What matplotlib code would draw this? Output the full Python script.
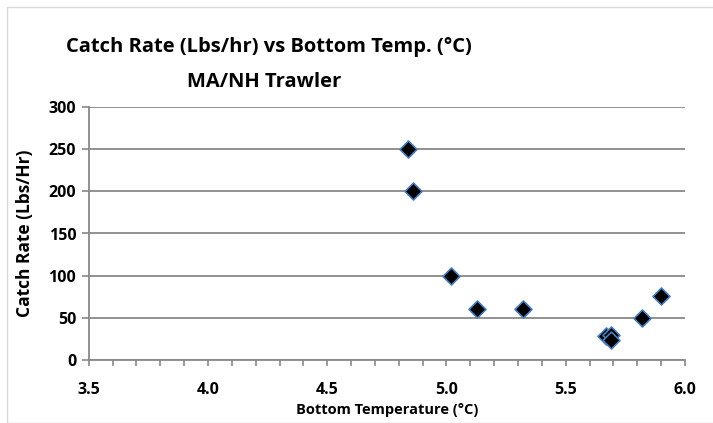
import matplotlib
matplotlib.use('Agg')
import matplotlib.pyplot as plt
from matplotlib.ticker import MultipleLocator, FormatStrFormatter

plt.rcParams['font.family'] = ['Open Sans', 'DejaVu Sans']
plt.rcParams['font.weight'] = 'bold'

temp = [4.84, 4.86, 5.02, 5.13, 5.32, 5.67, 5.69, 5.69, 5.82, 5.90]
catch = [250, 200, 100, 60, 60, 28, 30, 24, 50, 76]

W, H = 713, 423
fig = plt.figure(figsize=(W / 100, H / 100), dpi=100)
ax = fig.add_axes([88.7 / W, 1 - 360 / H, (685 - 88.7) / W, (360 - 107) / H])

# excel-like chart border
fig.patches.append(plt.Rectangle((7 / W, 0), 1, 1 - 7 / H, transform=fig.transFigure,
                                 fill=False, edgecolor='#d9d9d9', linewidth=1))

ax.scatter(temp, catch, marker='D', s=75, facecolor='black', edgecolor='#4a7ebb',
           linewidth=1.2, zorder=3, clip_on=False)

ax.set_xlim(3.5, 6.0)
ax.set_ylim(0, 300)
ax.xaxis.set_major_locator(MultipleLocator(0.5))
ax.xaxis.set_minor_locator(MultipleLocator(0.1))
ax.yaxis.set_major_locator(MultipleLocator(50))
ax.xaxis.set_major_formatter(FormatStrFormatter('%.1f'))

ax.grid(axis='y', color='#888888', linewidth=1.3)
ax.set_axisbelow(True)
for s in ['top', 'right']:
    ax.spines[s].set_visible(False)
for s in ['left', 'bottom']:
    ax.spines[s].set_color('#888888')
    ax.spines[s].set_linewidth(1.3)

ax.tick_params(axis='both', which='both', color='#888888', width=1.2, labelsize=11.5)
ax.tick_params(axis='x', which='major', length=4, pad=12)
ax.tick_params(axis='x', which='minor', length=4)
ax.tick_params(axis='y', length=5, pad=4)

ax.set_xlabel('Bottom Temperature (°C)', fontsize=10.5, fontweight='bold')
ax.set_ylabel('Catch Rate (Lbs/Hr)', fontsize=12.5, fontweight='bold')
ax.xaxis.set_label_coords(0.5, (360 - 410) / 253)
ax.xaxis.label.set_va('center')
ax.yaxis.set_label_coords((25 - 88.7) / 596.3, 0.5)
ax.yaxis.label.set_va('center')

fig.text(269 / W, 1 - 47 / H, 'Catch Rate (Lbs/hr) vs Bottom Temp. (°C)',
         ha='center', va='center', fontsize=14.5, fontweight='bold')
fig.text(264 / W, 1 - 82 / H, 'MA/NH Trawler',
         ha='center', va='center', fontsize=14.5, fontweight='bold')

fig.savefig('out.png', dpi=100)
